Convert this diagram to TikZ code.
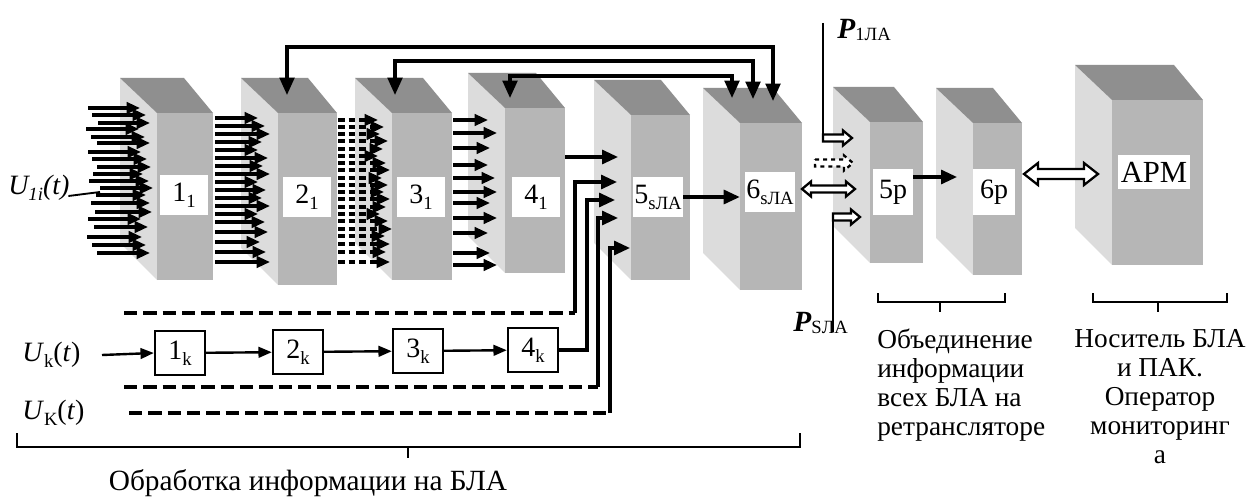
\documentclass[tikz,border=0pt]{standalone}
\usepackage{fontspec}
\setmainfont{Liberation Serif}
\usetikzlibrary{arrows.meta,calc}
\definecolor{frontc}{RGB}{182,182,182}
\definecolor{sidec}{RGB}{220,220,220}
\definecolor{topc}{RGB}{143,143,143}
\newcommand\sbs[1]{\raisebox{-4.5pt}{\fontsize{14}{14}\selectfont #1}}
\newcommand\sbp[1]{\raisebox{-2pt}{\fontsize{14}{14}\selectfont #1}}
\tikzset{
  lbl/.style={fill=white, inner sep=0pt, minimum width=36pt, minimum height=30pt, font=\fontsize{21}{22}\selectfont},
  frontface/.style={fill=frontc, inner sep=0pt},
  conn/.style={line width=2.3pt, -{Triangle[length=12pt,width=10.5pt]}},
  fb/.style={line width=2.3pt, {Triangle[length=13pt,width=11pt]}-{Triangle[length=13pt,width=11pt]}},
  stream/.style={line width=2.3pt, -{Triangle[length=10pt,width=8.5pt]}},
  dstream/.style={stream, dash pattern=on 5pt off 3pt},
  kbox/.style={draw, line width=1.8pt, minimum width=37.5pt, minimum height=33pt, inner sep=0pt, font=\fontsize{21}{22}\selectfont},
  kconn/.style={line width=1.8pt, -{Triangle[length=10pt,width=8pt]}},
  dline/.style={line width=2.3pt, dash pattern=on 10pt off 4.5pt},
  hollowst/.style={line width=1.7pt, fill=white, line join=miter},
  bracket/.style={line width=2.2pt},
  captext/.style={inner sep=0pt, font=\fontsize{20.5}{21.75}\selectfont},
  ulabel/.style={inner sep=0pt, anchor=west, font=\fontsize{21}{22}\selectfont},
}
% 3D box: name, x1, y1, x2, y2 (front face, pixels, y down)
\newcommand\cubebox[5]{%
  \fill[sidec] (#2,#3) -- ({#2-37},{#3-35}) -- ({#2-37},{#5-37}) -- (#2,#5) -- cycle;
  \fill[topc] (#2,#3) -- ({#2-37},{#3-35}) -- ({#4-29},{#3-35}) -- (#4,#3) -- cycle;
  \node[frontface, minimum width={(#4-#2)*0.75pt}, minimum height={(#5-#3)*0.75pt}] (#1) at ({(#2+#4)/2},{(#3+#5)/2}) {};
}
% hollow right arrow: [style] x1, x2, y
\newcommand\hollowR[4][]{%
  \draw[hollowst,#1] (#2,{#4-3.5}) -- ({#3-9},{#4-3.5}) -- ({#3-9},{#4-7.5}) -- (#3,#4) -- ({#3-9},{#4+7.5}) -- ({#3-9},{#4+3.5}) -- (#2,{#4+3.5}) -- cycle;
}
% hollow double arrow: x1, x2, y, half head width, half shaft width, head length
\newcommand\hollowD[6]{%
  \draw[hollowst] (#1,#3) -- ({#1+#6},{#3-#4}) -- ({#1+#6},{#3-#5}) -- ({#2-#6},{#3-#5}) -- ({#2-#6},{#3-#4}) -- (#2,#3) -- ({#2-#6},{#3+#4}) -- ({#2-#6},{#3+#5}) -- ({#1+#6},{#3+#5}) -- ({#1+#6},{#3+#4}) -- cycle;
}
\begin{document}
\begin{tikzpicture}[x=0.75pt,y=-0.75pt]
\fill[white] (0,0) rectangle (1252,499);
\useasboundingbox (0,0) rectangle (1252,499);

% ---- 3D blocks
\cubebox{b1}{157}{113}{213}{280}
\cubebox{b2}{278}{113}{337}{285}
\cubebox{b3}{392}{113}{452}{280}
\cubebox{b4}{505}{108}{565}{273}
\cubebox{b5}{631}{115}{690}{280}
\cubebox{b6}{740}{123}{802}{290}
\cubebox{r5}{870}{122}{923}{263}
\cubebox{r6}{973}{123}{1022}{275}
\cubebox{apm}{1112}{100}{1203}{265}

\node[lbl] (l1) at (184,195) {1\sbs{1}};
\node[lbl] (l2) at (307,197) {2\sbs{1}};
\node[lbl] (l3) at (421,197) {3\sbs{1}};
\node[lbl] (l4) at (536,197) {4\sbs{1}};
\node[lbl, minimum width=37.5pt] (l5) at (658,197) {5\sbs{sЛА}};
\node[lbl, minimum width=37.5pt] (l6) at (770,192) {6\sbs{sЛА}};
\node[lbl, minimum width=30pt, minimum height=34pt] (l7) at (893,192) {5р};
\node[lbl, minimum width=31pt, minimum height=34pt] (l8) at (994,192) {6р};
\node[lbl, minimum width=54pt, minimum height=26pt, font=\fontsize{23}{24}\selectfont] (l9) at (1154,172) {АРМ};

% ---- input streams
\foreach \y/\a/\b in {108/88/140, 115/92/146, 123/98/150, 129/86/139, 137/91/145, 143/97/150, 152/88/141, 159/92/147, 167/97/151, 174/93/143, 181/89/149, 188/100/153, 195/96/146, 203/91/150, 212/95/152, 219/88/141, 227/94/148, 237/87/142, 245/92/146, 253/97/150}
  \draw[stream] (\a,\y) -- (\b,\y);
\foreach \y/\b in {118/258, 126/265, 134/270, 142/262, 150/258, 158/268, 166/263, 174/270, 182/258, 190/266, 198/262, 206/270, 214/258, 222/265, 232/268, 242/260, 252/266, 262/270}
  \draw[stream] (215,\y) -- (\b,\y);
\foreach \y/\b in {120/378, 127/384, 134/380, 141/388, 149/383, 156/378, 163/386, 170/390, 178/382, 185/388, 192/384, 199/390, 207/386, 214/380, 221/388, 229/392, 236/385, 244/390, 252/386, 262/390}
  \draw[dstream] (338,\y) -- (\b,\y);
\foreach \y/\b in {120/488, 133/497, 148/490, 165/488, 178/495, 192/497, 203/490, 218/497, 233/488, 253/490, 265/497}
  \draw[stream] (453,\y) -- (\b,\y);

\node[ulabel] (u1) at (8,188) {\textit{U\sbs{1i}(t)}};
\coordinate (u1end) at (100,192);
\draw[line width=1.4pt] ([xshift=-1pt,yshift=-6pt]u1.east) -- (u1end);

% ---- feedback loops
\coordinate (fa1) at (287,95);  \coordinate (fa2) at (773,101);
\coordinate (fm1) at (395,95);  \coordinate (fm2) at (753,99);
\coordinate (fi1) at (510,98);  \coordinate (fi2) at (732,98);
\draw[fb] (fa1) -- (287,47) -- (773,47) -- (fa2);
\draw[fb] (fm1) -- (395,61) -- (753,61) -- (fm2);
\draw[fb] (fi1) -- (510,76) -- (732,76) -- (fi2);

% ---- into 5sLA
\draw[conn] (b4.east |- 0,157) -- (618,157);
\draw[conn] (l5.east) -- (b6.west |- l5.east);

% ---- k chain
\node[ulabel] (uk) at (22,355) {\textit{U}\sbs{k}(\textit{t})};
\node[ulabel] (uK) at (22,413) {\textit{U}\sbs{K}(\textit{t})};
\node[kbox] (k1) at (180,353) {1\sbs{k}};
\node[kbox] (k2) at (298,352) {2\sbs{k}};
\node[kbox] (k3) at (418,351) {3\sbs{k}};
\node[kbox] (k4) at (533,350) {4\sbs{k}};
\draw[kconn] (uk.east -| 102,0) -- (k1.west);
\draw[kconn] (k1) -- (k2);
\draw[kconn] (k2) -- (k3);
\draw[kconn] (k3) -- (k4);

\draw[dline] (124,313) -- (575,313);
\draw[conn] (575,313) |- (617,182);
\draw[conn] (k4.east) -| (587,200) -- (615,200);
\draw[dline] (124,387) -- (598,387);
\draw[conn] (598,387) |- (618,218);
\draw[dline] (129,413) -- (610,413);
\draw[conn] (610,413) |- (630,248);

% ---- relay inputs
\node[inner sep=0pt, anchor=west] (p1) at (837,30) {\fontsize{22}{22}\selectfont\textbf{\textit{P}}\sbp{1ЛА}};
\node[inner sep=0pt, anchor=west] (ps) at (793,323) {\fontsize{22}{22}\selectfont\textbf{\textit{P}}\sbp{SЛА}};
\draw[line width=2pt] (823,23) -- (823,141);
\draw[line width=2pt] (833,332) -- (833,214);
\hollowR{823}{852}{138}
\hollowR[dashed]{815}{853}{163}
\hollowD{802}{855}{189}{7.5}{3.5}{9}
\hollowR{833}{860}{217}
\draw[conn] (l7.east |- 0,177) -- (957,177);
\hollowD{1024}{1098}{174}{11}{5}{14}

% ---- brackets
\draw[bracket] (17,433) -- (17,447) -- (800,447) -- (800,433);
\draw[bracket] (408,447) -- (408,458);
\draw[bracket] (878,293) -- (878,302) -- (1005,302) -- (1005,293);
\draw[bracket] (940,302) -- (940,312);
\draw[bracket] (1093,293) -- (1093,302) -- (1227,302) -- (1227,293);
\draw[bracket] (1158,302) -- (1158,312);

% ---- captions
\node[captext, anchor=north west, align=left] (t1) at (877,329) {Объединение\\информации\\всех БЛА на\\ретрансляторе};
\node[captext, anchor=north, align=center] (t2) at (1160,329) {Носитель БЛА\\и ПАК.\\Оператор\\мониторинг\\а};
\node[captext, anchor=base, font=\fontsize{22}{22}\selectfont] (t3) at (308,490) {Обработка информации на БЛА};
\end{tikzpicture}
\end{document}
